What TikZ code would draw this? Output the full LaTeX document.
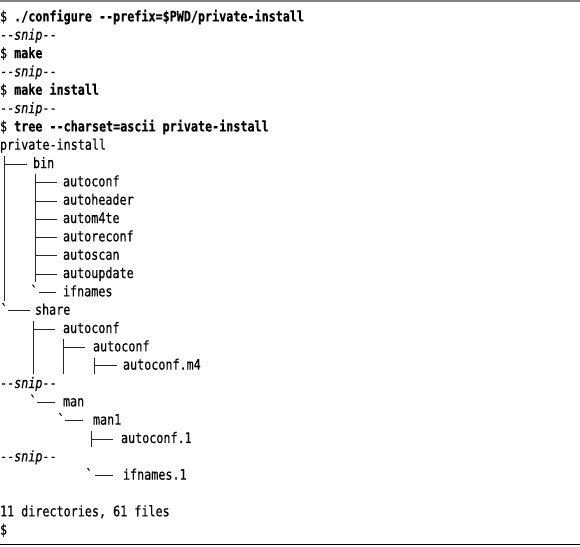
\documentclass[tikz,border=0pt]{standalone}
\usepackage{fontspec}
\setmonofont[FakeStretch=0.81,
  UprightFeatures={FakeBold=0.35},
  ItalicFeatures={FakeBold=0.35},
  BoldFeatures={FakeBold=0.4}]{DejaVu Sans Mono}
\newcommand\lstfont{\ttfamily\fontsize{14.5}{17}\selectfont}
\tikzset{
  txt/.style={anchor=base west, inner sep=0pt, outer sep=0pt, font=\lstfont, text=black},
  br/.style={line width=1pt, draw=black!85},
  rulegray/.style={line width=1.6pt, draw=black!50},
  ruleblack/.style={line width=1.6pt, draw=black}
}
\begin{document}
\begin{tikzpicture}[x=1pt,y=-1pt]
\useasboundingbox (0,0) rectangle (580,546);
% rules
\coordinate (tl) at (0,1); \coordinate (tr) at (580,1);
\coordinate (bl) at (0,544.6); \coordinate (brr) at (580,544.6);
\draw[rulegray] (tl) -- (tr);
\draw[ruleblack] (bl) -- (brr);
% command lines
\node[txt] (l1) at (0,21.40) {\$ \textbf{./configure --prefix=\$PWD/private-install}};
\node[txt] (l2) at (0,39.73) {--\textit{snip}--};
\node[txt] (l3) at (0,58.06) {\$ \textbf{make}};
\node[txt] (l4) at (0,76.39) {--\textit{snip}--};
\node[txt] (l5) at (0,94.72) {\$ \textbf{make install}};
\node[txt] (l6) at (0,113.05) {--\textit{snip}--};
\node[txt] (l7) at (0,131.38) {\$ \textbf{tree --charset=ascii private-install}};
\node[txt] (l8) at (0,149.71) {private-install};
% tree entries
\node[txt] (l9) at (33,168.04) {bin};
\node[txt] (l10) at (63,186.37) {autoconf};
\node[txt] (l11) at (63,204.70) {autoheader};
\node[txt] (l12) at (63,223.03) {autom4te};
\node[txt] (l13) at (63,241.36) {autoreconf};
\node[txt] (l14) at (63,259.69) {autoscan};
\node[txt] (l15) at (63,278.02) {autoupdate};
\node[txt] (l16) at (63,296.35) {ifnames};
\node[txt] (l17) at (35,314.68) {share};
\node[txt] (l18) at (63,333.01) {autoconf};
\node[txt] (l19) at (93,351.34) {autoconf};
\node[txt] (l20) at (123,369.67) {autoconf.m4};
\node[txt] (l21) at (0,388.00) {--\textit{snip}--};
\node[txt] (l22) at (63,406.33) {man};
\node[txt] (l23) at (93,424.66) {man1};
\node[txt] (l24) at (121,442.99) {autoconf.1};
\node[txt] (l25) at (0,461.32) {--\textit{snip}--};
\node[txt] (l26) at (123,479.65) {ifnames.1};
\node[txt] (l28) at (0,516.31) {11 directories, 61 files};
\node[txt] (l29) at (0,534.64) {\$};
% backticks
\node[txt] (q16) at (30.5,296.35) {`};
\node[txt] (q17) at (0.5,314.68) {`};
\node[txt] (q22) at (29.5,406.33) {`};
\node[txt] (q23) at (57.5,424.66) {`};
\node[txt] (q26) at (85.5,479.65) {`};
% vertical lines
\draw[br] (4,155.8) -- (4,300.6);
\draw[br] (35,174.2) -- (35,282.3);
\draw[br] (33,320.8) -- (33,374.0);
\draw[br] (63,339.1) -- (63,374.0);
\draw[br] (94,357.5) -- (94,374.0);
\draw[br] (91,430.8) -- (91,447.3);
% horizontal branches
\draw[br] (4,164.34) -- (27,164.34);
\foreach \y in {182.67,201.00,219.33,237.66,255.99,274.32}
  \draw[br] (35,\y) -- (57,\y);
\draw[br] (39,292.65) -- (56,292.65);
\draw[br] (8,310.98) -- (30,310.98);
\draw[br] (33,329.31) -- (55,329.31);
\draw[br] (63,347.64) -- (85,347.64);
\draw[br] (94,365.97) -- (117,365.97);
\draw[br] (37,402.63) -- (55,402.63);
\draw[br] (65,420.96) -- (83,420.96);
\draw[br] (91,439.29) -- (113,439.29);
\draw[br] (95,475.95) -- (113,475.95);
\end{tikzpicture}
\end{document}
